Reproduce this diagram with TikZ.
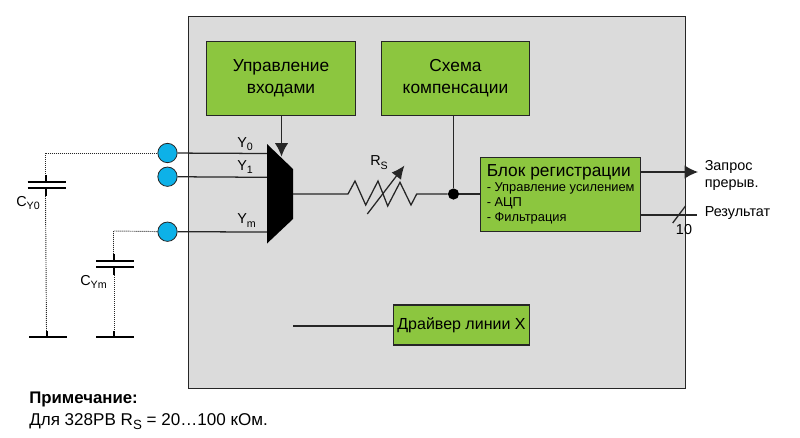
\documentclass[tikz,border=0pt]{standalone}
\usepackage{fontspec}
\setmainfont{Liberation Sans}
\usetikzlibrary{arrows.meta}
\definecolor{panelgray}{RGB}{219,219,219}
\definecolor{blockgreen}{RGB}{140,198,63}
\definecolor{portblue}{RGB}{13,177,232}
\newcommand{\lowidx}[2][8]{\raisebox{-2.6pt}{\fontsize{#1}{9}\selectfont #2}}
\tikzset{
  greenblock/.style={draw=black!85,line width=0.9pt,fill=blockgreen,inner sep=0pt,align=center,font=\fontsize{13}{16.5}\selectfont},
  portdot/.style={circle,draw=black!85,line width=0.6pt,fill=portblue,minimum size=14.5pt,inner sep=0pt},
  wire/.style={line width=0.95pt,draw=black!85},
  dotwire/.style={line width=0.7pt,dash pattern={on 0.75pt off 0.75pt},draw=black!85},
  plate/.style={line width=1.5pt,draw=black},
  lbl/.style={inner sep=0.75pt,font=\fontsize{10.8}{12.8}\selectfont}
}
\begin{document}
\begin{tikzpicture}[x=0.75pt,y=0.75pt,yscale=-1]
\useasboundingbox (0,0) rectangle (800,437);
%Shape: Panel
\draw [fill=panelgray,draw=black!85,line width=0.8pt] (188.5,16.5) rectangle (685.5,388.5);
%Shape: Blocks
\node (inputctl) [greenblock,minimum width=112pt,minimum height=56pt] at (281,78.5) {Управление\\входами};
\node (compens) [greenblock,minimum width=111.5pt,minimum height=56pt] at (455.5,78.5) {Схема\\компенсации};
\node (regblock) [greenblock,minimum width=120pt,minimum height=56pt,anchor=north west] at (480,156.5) {};
\node (regtext) [inner sep=0pt,align=left,anchor=north west,font=\fontsize{9.65}{11.25}\selectfont] at (486.5,164) {{\fontsize{13}{14}\selectfont Блок регистрации}\\[0.5pt]- Управление усилением\\- АЦП\\- Фильтрация};
\node (linedrv) [greenblock,minimum width=102.5pt,minimum height=30pt,font=\fontsize{12}{14}\selectfont] at (461.5,325) {Драйвер линии X};
%Shape: Ports
\node (porta) [portdot] at (167.5,153) {};
\node (portb) [portdot] at (167.5,176.7) {};
\node (portm) [portdot] at (167.5,231.7) {};
%Shape: Multiplexer
\coordinate (muxa) at (267,153.5);
\coordinate (muxb) at (267,177.3);
\coordinate (muxm) at (267,232);
\coordinate (muxout) at (293,194);
\coordinate (muxsel) at (281.5,156.5);
\draw [wire] (porta) -- (muxa);
\draw [wire] (portb) -- (muxb);
\draw [wire] (portm) -- (muxm);
\fill [black] (267,144) -- (293,169) -- (293,219) -- (267,243.5) -- cycle;
\draw [wire,-{Latex[length=10pt,width=10pt]}] (inputctl.south -| muxsel) -- (muxsel);
%Resistor
\coordinate (rleft) at (348,194);
\coordinate (rright) at (416.7,194);
\coordinate (rarrowa) at (367.3,214);
\coordinate (rarrowb) at (404.5,165.5);
\node (junct) [circle,fill=black,minimum size=8.4pt,inner sep=0pt] at (453.5,194) {};
\draw [wire] (muxout) -- (rleft) -- (355,181) -- (365.7,205) -- (378,181) -- (387.7,206) -- (400,182.3) -- (411,205) -- (rright) -- (junct);
\draw [wire,-{Latex[length=10pt,width=9pt]}] (rarrowa) -- (rarrowb);
\draw [wire] (junct) -- (regblock.west |- junct);
\draw [wire] (compens.south -| junct) -- (junct);
%Outputs
\coordinate (irqend) at (698,172);
\coordinate (resend) at (697,215);
\coordinate (busa) at (672.7,223);
\coordinate (busb) at (685.7,205.7);
\coordinate (drvstart) at (293,326);
\draw [wire,-{Latex[length=10pt,width=10pt]}] (regblock.east |- irqend) -- (irqend);
\draw [wire] (regblock.east |- resend) -- (resend);
\draw [wire] (busa) -- (busb);
\draw [wire] (drvstart) -- (linedrv.west |- drvstart);
%Capacitor CY0
\coordinate (capa) at (45.5,153);
\coordinate (capatop) at (45.5,181.7);
\coordinate (capabot) at (45.5,188.3);
\coordinate (capagnd) at (46.5,337);
\draw [dotwire] (porta) -- (capa) -- (45.5,175);
\draw [dotwire] (45.5,196) -- (46.5,331);
\draw [plate] (45.5,175) -- (capatop) (capabot) -- (45.5,196);
\draw [plate] (27.5,181.7) -- (66,181.7) (27.5,188.3) -- (66,188.3);
\draw [plate] (46.5,331) -- (capagnd) (29,337) -- (67,337);
%Capacitor CYm
\coordinate (capm) at (113.5,231);
\coordinate (capmtop) at (114,260.7);
\coordinate (capmbot) at (114,267.3);
\coordinate (capmgnd) at (114,337);
\draw [dotwire] (portm) -- (capm) -- (113.5,254);
\draw [dotwire] (114,275) -- (114,331);
\draw [plate] (114,254) -- (capmtop) (capmbot) -- (114,275);
\draw [plate] (96,260.7) -- (134,260.7) (96,267.3) -- (134,267.3);
\draw [plate] (114,331) -- (capmgnd) (96,337) -- (134,337);
% Text Node
\node (ya) [lbl,anchor=west] at (236,144) {Y\lowidx{0}};
\node (yb) [lbl,anchor=west] at (236,167) {Y\lowidx{1}};
\node (ym) [lbl,anchor=west] at (236,220.5) {Y\lowidx{m}};
\node (cya) [lbl,anchor=west] at (15,203) {C\lowidx{Y0}};
\node (cym) [lbl,anchor=west] at (79,282) {C\lowidx{Ym}};
\node (rs) [lbl,anchor=west] at (369,162.5) {R\lowidx{S}};
\node (irqtext) [lbl,anchor=west,align=left] at (703.5,175) {Запрос\\прерыв.};
\node (restext) [lbl,anchor=west] at (703.5,213.5) {Результат};
\node (buswidth) [lbl] at (684,230) {10};
\node (notehead) [lbl,anchor=west,font=\fontsize{12.6}{14}\selectfont\bfseries] at (28,399.5) {Примечание:};
\node (notebody) [lbl,anchor=west,font=\fontsize{12.8}{14}\selectfont] at (28,421.5) {Для 328PB R\lowidx[10]{S} = 20…100 кОм.};
\end{tikzpicture}
\end{document}
